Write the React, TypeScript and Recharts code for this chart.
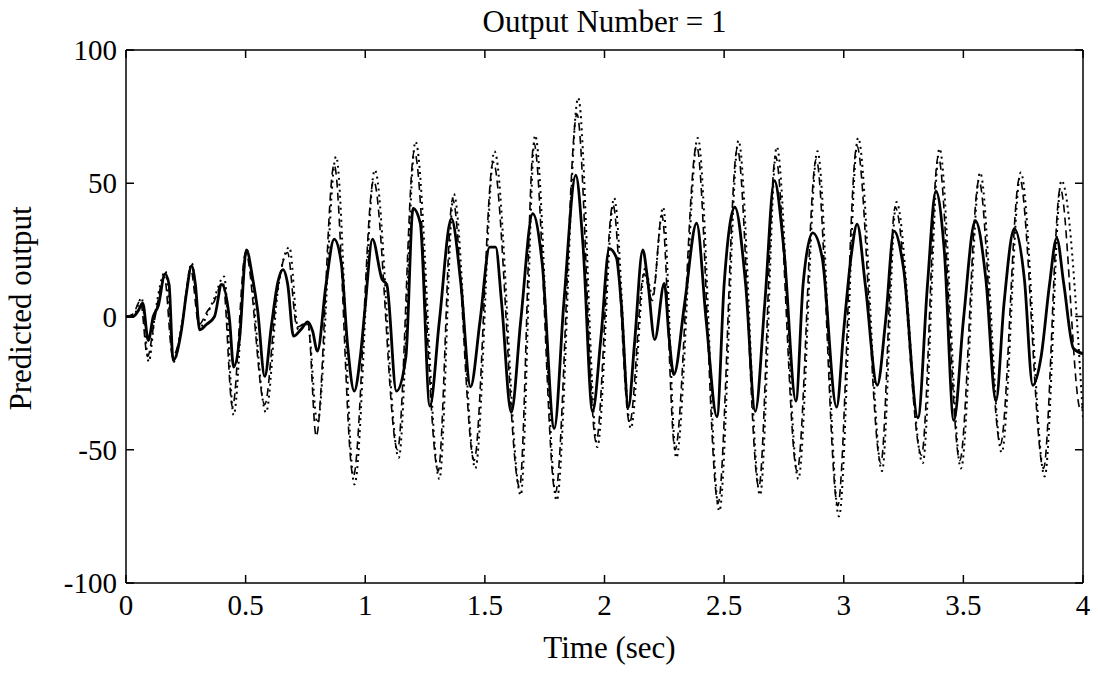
import React from 'react';
import { LineChart, Line, XAxis, YAxis } from 'recharts';

// time (sec), value pairs
const solidPoints: [number, number][] = [
  [0, 0], [0.03, 0], [0.05, 2], [0.07, 5], [0.093, -9], [0.114, 0], [0.135, 4], [0.163, 16], [0.18, 12],
  [0.197, -16.5], [0.232, -5], [0.253, 9], [0.274, 19], [0.29, 12], [0.308, -5], [0.336, -3], [0.37, 0],
  [0.4, 12], [0.433, -1.5], [0.45, -19], [0.475, -8], [0.503, 25], [0.53, 14], [0.55, 2.5], [0.58, -22.5],
  [0.607, -4], [0.635, 13], [0.656, 17.6], [0.676, 12], [0.7, -7.4], [0.73, -5], [0.76, -2], [0.78, -5.5],
  [0.8, -13], [0.836, 12], [0.87, 29], [0.9, 20], [0.926, -10.6], [0.954, -28], [0.98, -14.6], [1.0, 4],
  [1.03, 29], [1.07, 14], [1.09, 12], [1.13, -28], [1.17, -15], [1.2, 40.6], [1.23, 35], [1.27, -33.6],
  [1.31, -1.5], [1.36, 36.7], [1.4, 12], [1.44, -26.4], [1.48, -1.5], [1.52, 26], [1.545, 26], [1.57, 5],
  [1.61, -36], [1.65, -1.5], [1.7, 38.6], [1.74, 19.6], [1.79, -42], [1.83, 5], [1.88, 53], [1.91, 27],
  [1.95, -35.6], [1.985, -8], [2.02, 25.5], [2.05, 22], [2.07, 5], [2.1, -34], [2.125, -10.6], [2.16, 25],
  [2.18, 14], [2.21, -8.7], [2.25, 12.4], [2.27, -8], [2.29, -21.8], [2.335, 5], [2.385, 35], [2.425, -1.5],
  [2.47, -37.6], [2.5, 12], [2.545, 41], [2.59, 12], [2.63, -35.6], [2.67, 5], [2.71, 51], [2.75, 25],
  [2.8, -31.7], [2.83, 12], [2.87, 31.4], [2.91, 22], [2.97, -34], [3.0, -5], [3.03, 22], [3.056, 34.7],
  [3.09, 12], [3.14, -25.8], [3.175, -1.5], [3.21, 32], [3.25, 18], [3.31, -38], [3.35, 12], [3.385, 47],
  [3.42, 25], [3.46, -39], [3.5, -1.5], [3.55, 36], [3.594, 14], [3.636, -31.7], [3.67, 5], [3.713, 33],
  [3.755, 14], [3.79, -25.8], [3.825, -15], [3.86, 12], [3.89, 29.4], [3.92, 12], [3.96, -12], [4.0, -14],
];

const dashedPoints: [number, number][] = [
  [0, 0], [0.03, 1], [0.06, 6], [0.09, -15], [0.12, -1], [0.16, 15], [0.195, -15], [0.235, -3], [0.27, 18],
  [0.305, -3], [0.34, 2], [0.365, 5], [0.405, 13], [0.445, -34], [0.5, 24], [0.58, -33], [0.63, 8],
  [0.675, 24], [0.715, -4], [0.76, -2], [0.795, -45], [0.87, 57], [0.95, -60], [1.035, 51], [1.135, -50],
  [1.205, 62], [1.305, -58], [1.365, 44], [1.455, -54], [1.535, 58], [1.645, -64], [1.705, 65], [1.795, -66],
  [1.885, 76], [1.965, -47], [2.035, 42], [2.105, -40], [2.165, 16], [2.2, 6], [2.24, 38], [2.295, -50],
  [2.385, 64], [2.475, -70], [2.555, 63], [2.645, -64], [2.715, 60], [2.805, -58], [2.885, 59], [2.975, -71],
  [3.055, 64], [3.155, -55], [3.215, 41], [3.325, -52], [3.395, 60], [3.485, -54], [3.565, 51], [3.655, -48],
  [3.735, 52], [3.835, -57], [3.905, 48], [3.99, -35], [4.0, -33],
];

const dottedPoints: [number, number][] = [
  [0, 0], [0.03, 0], [0.065, 7], [0.095, -17], [0.12, 0], [0.165, 17], [0.2, -17], [0.235, -2], [0.275, 20],
  [0.31, -4], [0.34, 1], [0.365, 6], [0.41, 15], [0.45, -37], [0.505, 25], [0.585, -36], [0.635, 10],
  [0.683, 26], [0.72, -5], [0.76, -3], [0.8, -40], [0.878, 60], [0.955, -63], [1.04, 55], [1.14, -53],
  [1.21, 65.6], [1.31, -61], [1.37, 46], [1.46, -57], [1.54, 62], [1.65, -67], [1.71, 68], [1.8, -69],
  [1.89, 82], [1.97, -49], [2.04, 44.5], [2.11, -42], [2.17, 18], [2.2, 8], [2.245, 41], [2.3, -53],
  [2.39, 67], [2.48, -73], [2.56, 66], [2.65, -67], [2.72, 63.6], [2.81, -61], [2.89, 62], [2.98, -75],
  [3.06, 67], [3.16, -58], [3.22, 43], [3.33, -55], [3.4, 63], [3.49, -57], [3.57, 54], [3.66, -51],
  [3.74, 54], [3.84, -60], [3.91, 51], [4.0, -38],
];

const xTicks = [0, 0.5, 1, 1.5, 2, 2.5, 3, 3.5, 4];
const yTicks = [-100, -50, 0, 50, 100];

const title = 'Output Number = 1';
const xLabel = 'Time (sec)';
const yLabel = 'Predicted output';

const FONT = '"Liberation Serif", "Times New Roman", Times, serif';
const FS = 29; // tick labels
const LFS = 31; // title and axis labels

const toRows = (pts: [number, number][]) => pts.map(([t, v]) => ({ t, v }));

function BottomTick(props: any) {
  const { x, y, payload } = props;
  return (
    <g>
      <line x1={x} x2={x} y1={y} y2={y - 8} stroke="#000" strokeWidth={1.5} />
      <text x={x} y={y + 32} textAnchor="middle" fontSize={FS} fontFamily={FONT} fill="#000">
        {String(payload.value)}
      </text>
    </g>
  );
}

function LeftTick(props: any) {
  const { x, y, payload } = props;
  return (
    <g>
      <line x1={x} x2={x + 8} y1={y} y2={y} stroke="#000" strokeWidth={1.5} />
      <text x={x - 9} y={y + 10} textAnchor="end" fontSize={FS} fontFamily={FONT} fill="#000">
        {String(payload.value)}
      </text>
    </g>
  );
}

function TopTick(props: any) {
  const { x, y } = props;
  return <line x1={x} x2={x} y1={y} y2={y + 8} stroke="#000" strokeWidth={1.5} />;
}

function RightTick(props: any) {
  const { x, y } = props;
  return <line x1={x - 8} x2={x} y1={y} y2={y} stroke="#000" strokeWidth={1.5} />;
}

export default function App() {
  const solid = toRows(solidPoints);
  const dashed = toRows(dashedPoints);
  const dotted = toRows(dottedPoints);

  return (
    <div style={{ position: 'absolute', left: 0, top: 0, width: 1098, height: 677, background: '#fff' }}>
      <LineChart width={1098} height={677} margin={{ top: 49, right: 14, bottom: 9, left: 10 }}>
        <XAxis
          xAxisId="main"
          dataKey="t"
          type="number"
          domain={[0, 4]}
          ticks={xTicks}
          allowDataOverflow
          height={85}
          tickSize={0}
          tickMargin={0}
          tickLine={false}
          tick={BottomTick}
          axisLine={{ stroke: '#000', strokeWidth: 1.5 }}
          label={{
            content: (p: any) => {
              const vb = p.viewBox || { x: 126, y: 583, width: 957 };
              return (
                <text x={vb.x + vb.width / 2 + 5} y={vb.y + 75} textAnchor="middle" fontSize={LFS} fontFamily={FONT} fill="#000">
                  {xLabel}
                </text>
              );
            },
          }}
        />
        <XAxis
          xAxisId="top"
          orientation="top"
          dataKey="t"
          type="number"
          domain={[0, 4]}
          ticks={xTicks}
          allowDataOverflow
          height={1}
          tickSize={0}
          tickMargin={0}
          tickLine={false}
          tick={TopTick}
          axisLine={{ stroke: '#000', strokeWidth: 1.5 }}
          label={{
            content: (p: any) => {
              const vb = p.viewBox || { x: 126, y: 49, width: 957 };
              return (
                <text x={vb.x + vb.width / 2} y={vb.y - 17} textAnchor="middle" fontSize={LFS} fontFamily={FONT} fill="#000">
                  {title}
                </text>
              );
            },
          }}
        />
        <YAxis
          yAxisId="main"
          type="number"
          domain={[-100, 100]}
          ticks={yTicks}
          allowDataOverflow
          width={116}
          tickSize={0}
          tickMargin={0}
          tickLine={false}
          tick={LeftTick}
          axisLine={{ stroke: '#000', strokeWidth: 1.5 }}
          label={{
            content: (p: any) => {
              const vb = p.viewBox || { x: 10, y: 50, height: 533 };
              const cx = vb.x + 21;
              const cy = vb.y + vb.height / 2 - 8;
              return (
                <text
                  x={cx}
                  y={cy}
                  transform={`rotate(-90 ${cx} ${cy})`}
                  textAnchor="middle"
                  fontSize={LFS}
                  fontFamily={FONT}
                  fill="#000"
                >
                  {yLabel}
                </text>
              );
            },
          }}
        />
        <YAxis
          yAxisId="right"
          orientation="right"
          type="number"
          domain={[-100, 100]}
          ticks={yTicks}
          allowDataOverflow
          width={1}
          tickSize={0}
          tickMargin={0}
          tickLine={false}
          tick={RightTick}
          axisLine={{ stroke: '#000', strokeWidth: 1.5 }}
        />
        {/* invisible series so the top/right frame axes get drawn */}
        <Line
          xAxisId="top"
          yAxisId="right"
          data={solid}
          dataKey="v"
          stroke="none"
          dot={false}
          activeDot={false}
          legendType="none"
          isAnimationActive={false}
        />
        <Line
          xAxisId="main"
          yAxisId="main"
          data={dotted}
          dataKey="v"
          type="monotone"
          stroke="#000"
          strokeWidth={2}
          strokeDasharray="2 4"
          dot={false}
          activeDot={false}
          isAnimationActive={false}
        />
        <Line
          xAxisId="main"
          yAxisId="main"
          data={dashed}
          dataKey="v"
          type="monotone"
          stroke="#000"
          strokeWidth={1.6}
          strokeDasharray="8 5"
          dot={false}
          activeDot={false}
          isAnimationActive={false}
        />
        <Line
          xAxisId="main"
          yAxisId="main"
          data={solid}
          dataKey="v"
          type="monotone"
          stroke="#000"
          strokeWidth={2.8}
          dot={false}
          activeDot={false}
          isAnimationActive={false}
        />
      </LineChart>
    </div>
  );
}
